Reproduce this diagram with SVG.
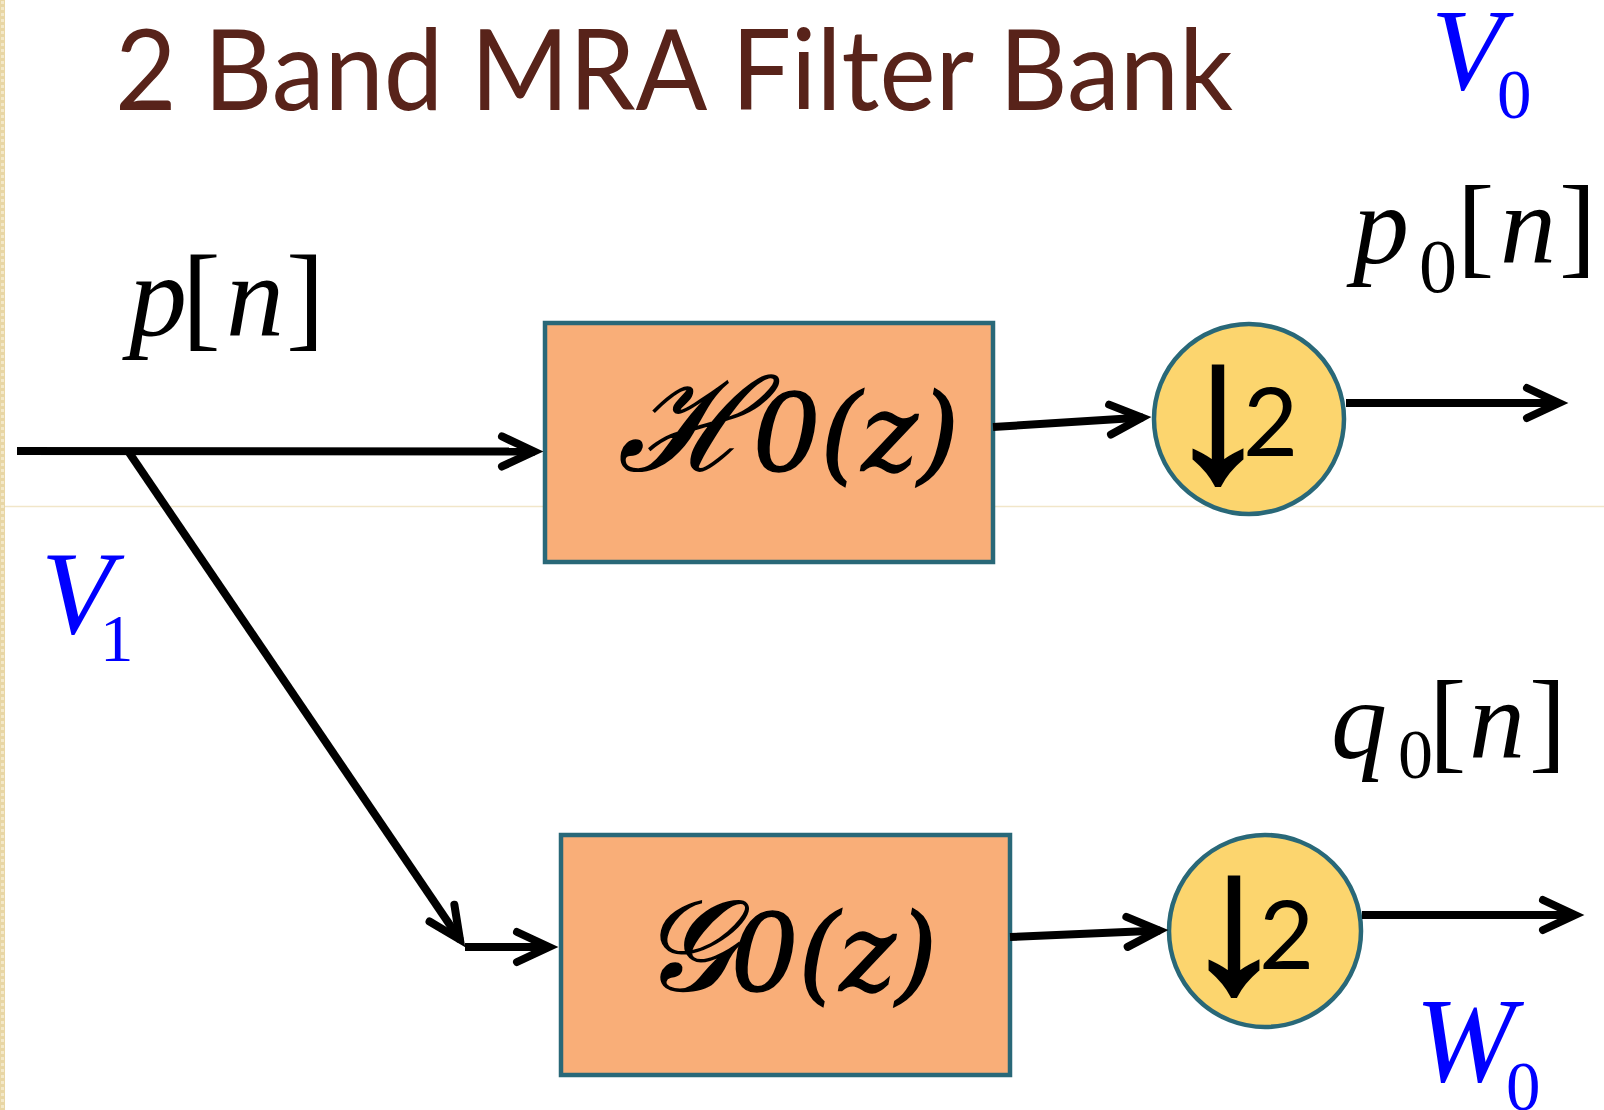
<svg xmlns="http://www.w3.org/2000/svg" width="1604" height="1110" viewBox="0 0 1604 1110">
  <defs>
    <pattern id="strip" width="5" height="6" patternUnits="userSpaceOnUse">
      <rect width="5" height="6" fill="#E8D6A4"/>
      <rect x="1" y="1" width="3" height="3" fill="#F3E8C8"/>
    </pattern>
    <marker id="chev" markerUnits="userSpaceOnUse" viewBox="-44 -24 56 48" markerWidth="56" markerHeight="48" refX="1" refY="0" orient="auto" overflow="visible">
      <path d="M -32 -15 L 0 0 L -32 15" fill="none" stroke="#000" stroke-width="8" stroke-linecap="round" stroke-linejoin="miter" stroke-miterlimit="10"/>
    </marker>
    <style>
      .title { font-family: Lato, "Open Sans", "Liberation Sans", sans-serif; font-size: 113px; fill: #58231A; }
      .wire { fill: none; stroke: #000; stroke-width: 8; marker-end: url(#chev); }
      .box { fill: #F9AE78; stroke: #296878; stroke-width: 4.5; }
      .ds { fill: #FCD56E; stroke: #296878; stroke-width: 4.5; }
      .it { font-family: "Liberation Serif", "Times New Roman", serif; font-style: italic; fill: #000; }
      .up { font-family: "Liberation Serif", "Times New Roman", serif; font-style: normal; fill: #000; }
      .blue { fill: #0000FF; }
      .fn { font-family: "DejaVu Serif", "Liberation Serif", serif; font-style: italic; fill: #000; stroke: #000; stroke-width: 1.6; }
      .arr { font-family: "Liberation Sans", Arial, sans-serif; font-size: 200px; font-weight: bold; fill: #000; stroke: #000; stroke-width: 4; }
      .two { font-family: Lato, "Liberation Sans", sans-serif; font-size: 95px; fill: #000; stroke: none; }
    </style>
  </defs>

  <!-- page background and left border strip -->
  <rect width="1604" height="1110" fill="#FFFFFF"/>
  <rect x="0" y="0" width="5" height="1110" fill="url(#strip)"/>
  <line x1="5" y1="506.5" x2="1604" y2="506.5" stroke="#F1E6C9" stroke-width="1.5"/>

  <!-- heading -->
  <text class="title" x="115" y="110" textLength="1118" lengthAdjust="spacingAndGlyphs">2 Band MRA Filter Bank</text>

  <!-- signal labels -->
  <g id="label-p">
    <text class="it" font-size="116" x="129" y="335">p<tspan class="up" x="182">[</tspan><tspan x="226">n</tspan><tspan class="up" x="286">]</tspan></text>
  </g>
  <g id="label-V1">
    <text class="it blue" font-size="118" x="41" y="633">V<tspan class="up blue" font-size="67" x="100" y="661">1</tspan></text>
  </g>
  <g id="label-V0">
    <text class="it blue" font-size="117" x="1431" y="89">V<tspan class="up blue" font-size="69" x="1497" y="118">0</tspan></text>
  </g>
  <g id="label-p0">
    <text class="it" font-size="112" x="1353" y="263">p<tspan class="up" font-size="76" x="1419" y="292">0</tspan><tspan class="up" x="1457" y="263">[</tspan><tspan x="1500" y="263">n</tspan><tspan class="up" x="1559" y="263">]</tspan></text>
  </g>
  <g id="label-q0">
    <text class="it" font-size="112" x="1331" y="758">q<tspan class="up" font-size="70" x="1398" y="778">0</tspan><tspan class="up" x="1429" y="758">[</tspan><tspan x="1469" y="758">n</tspan><tspan class="up" x="1529" y="758">]</tspan></text>
  </g>
  <g id="label-W0">
    <text class="it blue" font-size="120" x="1415" y="1081">W<tspan class="up blue" font-size="69" x="1506" y="1110">0</tspan></text>
  </g>

  <!-- filter blocks -->
  <g id="H0">
    <rect class="box" x="545" y="323" width="448" height="239"/>
    <text class="fn" x="618" y="470" font-size="106"><tspan font-size="128">ℋ</tspan>0(z)</text>
  </g>
  <g id="G0">
    <rect class="box" x="561" y="835" width="449" height="240"/>
    <text class="fn" x="640" y="990" font-size="106"><tspan font-size="128">𝒢</tspan>0(z)</text>
  </g>

  <!-- downsamplers -->
  <g id="down-top">
    <circle class="ds" cx="1249" cy="419" r="95"/>
    <text x="1168" y="479"><tspan class="arr">↓</tspan><tspan class="two" x="1243" y="456">2</tspan></text>
  </g>
  <g id="down-bottom">
    <circle class="ds" cx="1265" cy="931" r="96"/>
    <text x="1184" y="990"><tspan class="arr">↓</tspan><tspan class="two" x="1259" y="969">2</tspan></text>
  </g>

  <!-- connectors -->
  <g id="connectors">
    <path class="wire" d="M 17 451 L 535 451.5"/>
    <path class="wire" d="M 128 451 L 460.5 940.4"/>
    <path class="wire" d="M 465 947 L 550 947"/>
    <path class="wire" d="M 993 427 L 1143 417.5"/>
    <path class="wire" d="M 1346 403 L 1560 403"/>
    <path class="wire" d="M 1010 937 L 1160 930.4"/>
    <path class="wire" d="M 1362 915 L 1576 915"/>
  </g>
</svg>
